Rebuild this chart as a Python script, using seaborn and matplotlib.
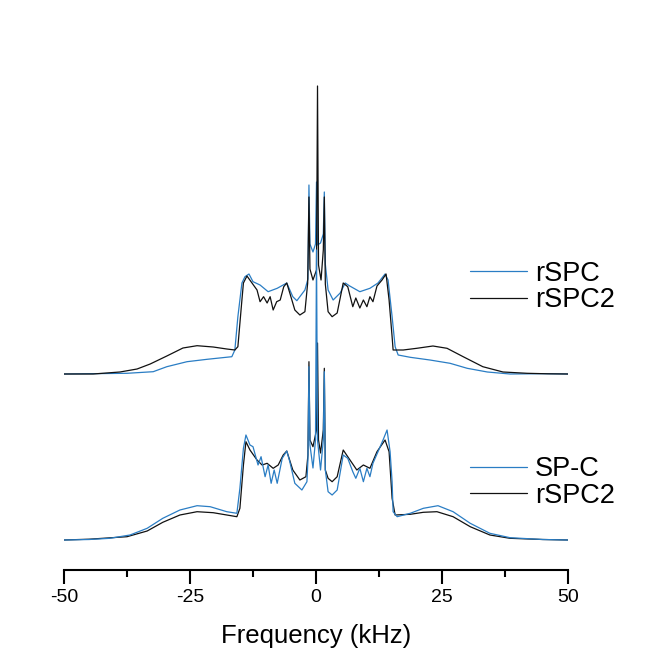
import numpy as np
import pandas as pd
import matplotlib
matplotlib.use("Agg")
import matplotlib.pyplot as plt
import seaborn as sns

# --- Datos (intensidad en u.a. sobre la linea base) ---
freq_rspc = [-50, -45, -37.5, -32.3, -29.6, -25.6, -21.6, -16.7, -16.1, -15.5, -14.7, -14.1,
             -13.3, -12.5, -11.1, -9.5, -7.7, -5.8, -4.6, -3.8, -2.2, -1.6, -1.4, -1.2,
             -0.6, -0.1, 0.1, 0.3, 0.9, 1.45, 1.65, 1.85, 2.4, 3.4, 4.8, 5.8, 6.7, 8.7,
             10.7, 12.3, 13.7, 14.3, 15.1, 15.7, 16.3, 18.7, 22.6, 26.6, 30, 34, 38.5, 45, 50]
int_rspc = [0, 0.3, 0.7, 2.3, 7.3, 12.3, 14.7, 17.3, 24, 57.3, 91, 97.3,
            100, 92.3, 89, 82.3, 85.7, 91, 77.3, 73.3, 84, 95, 189, 130,
            122, 130, 192, 129, 131, 140, 182, 110, 84, 74, 81, 91, 88, 82.3,
            85.7, 91, 100, 94, 57.3, 27.3, 19, 16.7, 14, 10.7, 5.7, 2, 0, 0.3, 0]

freq_rspc2_top = [-50, -44.2, -38.9, -35.5, -32.9, -29.6, -26.4, -23.6, -20.4, -17.7, -16.1,
                  -15.5, -14.7, -14.4, -13.7, -12.7, -11.7, -11.1, -10.4, -9.7, -9.1, -8.5,
                  -7.8, -7.1, -6.4, -5.8, -5.2, -4.2, -3.2, -2.2, -1.65, -1.4, -1.2, -0.6,
                  0.1, 0.3, 0.5, 1.0, 1.45, 1.65, 1.85, 2.4, 3.2, 4.2, 5.4, 6.3, 7.3, 7.9,
                  8.7, 9.4, 10.1, 10.7, 11.3, 12.1, 13.1, 13.9, 14.5, 15.1, 15.3, 17.3, 20,
                  23.2, 26, 29.2, 33.1, 37.1, 41.9, 46, 50]
int_rspc2_top = [0, 0, 2, 5, 10, 18, 26, 28.3, 27, 25, 24,
                 27.3, 74, 91, 98, 91, 84, 72.3, 77.3, 71, 77.3, 64,
                 72.3, 74, 87.3, 91, 81, 64, 59, 62.3, 91, 177, 105, 94,
                 104, 288, 109, 94, 124, 177, 90, 62.3, 57.3, 61, 91, 87.3, 67.3, 76,
                 66, 74, 67.3, 77.3, 72.3, 88, 94, 100, 74, 37.3, 24, 24, 25.7,
                 28, 25.7, 17.3, 7.3, 2, 0.7, 0.2, 0]

freq_spc = [-50, -45, -40.9, -36.9, -33.5, -30.4, -27, -23.6, -21, -17.7, -15.7, -15.1,
            -14.4, -13.9, -13.1, -12.5, -11.5, -10.9, -10.1, -9.5, -8.9, -8.3, -7.7,
            -6.7, -5.8, -5.2, -4.2, -2.8, -1.8, -1.6, -1.4, -1.2, -0.6, -0.1, 0.1, 0.3,
            0.9, 1.45, 1.65, 1.85, 2.4, 3.2, 4.2, 5.4, 6.3, 7.3, 7.9, 8.7, 9.4, 10.1, 10.7,
            11.3, 12.3, 13.3, 14.1, 14.7, 15.1, 15.3, 16.1, 18.7, 21.3, 24.2, 27.2,
            30.6, 34.5, 38.5, 45, 50]
int_spc = [0, 0.5, 1.7, 5, 11.7, 21.7, 30, 34.3, 33.3, 28.3, 26.7, 51.7,
           91.7, 105, 95, 93.3, 75, 83.3, 63.3, 75, 56.7, 70, 56.7,
           81.7, 89, 78.3, 56.7, 50, 58.3, 80, 173.3, 95, 72, 100, 290, 100,
           70, 100, 168.3, 70, 48.3, 45, 50, 85, 81.7, 68.3, 61.7, 71.7, 58.3, 71.7, 63.3,
           76.7, 88.3, 100, 110, 88.3, 58.3, 28.3, 23.3, 26.7, 31.7, 34.3, 28.3,
           16.7, 6.7, 2.3, 0.5, 0]

freq_rspc2_bot = [-50, -45, -37.5, -33.5, -30.4, -27, -23.6, -20.4, -15.7, -15.1, -14.4,
                  -13.9, -13.1, -11.7, -10.7, -9.7, -8.5, -7.5, -6.5, -5.8, -4.6, -3.2,
                  -2.0, -1.6, -1.4, -1.2, -0.6, 0.1, 0.3, 0.5, 0.9, 1.45, 1.65, 1.85, 2.4,
                  3.2, 4.2, 5.4, 6.3, 8.1, 9.4, 10.7, 12.1, 13.7, 14.5, 15.1, 15.7, 18.7,
                  21.3, 24, 27.2, 30.6, 34.5, 38.5, 45, 50]
int_rspc2_bot = [0, 0.8, 3.3, 9, 17.7, 25, 28.3, 27.3, 23.3, 31.7, 75,
                 98.3, 90, 80, 75, 76.7, 71.7, 75, 85, 89, 70, 60,
                 63.3, 85, 178.3, 100, 93.3, 110, 197, 100, 87, 110, 171.7, 70, 61.7,
                 58.3, 63.3, 90, 83.3, 70, 75, 71.7, 88.3, 100, 88.3, 41.7, 25, 25.7,
                 27.7, 28.3, 23.3, 13.3, 5, 1.7, 0.5, 0]

xticks_major = [-50, -25, 0, 25, 50]
xticks_minor = [-37.5, -12.5, 12.5, 37.5]

# --- Estilo ---
BLUE = "#2a7dc4"
BLACK = "#111111"
OFFSET_TOP = 196
OFFSET_BOT = 30

sns.set_style("white")
plt.rcParams['font.family'] = ['Liberation Sans', 'DejaVu Sans']
plt.rcParams['axes.unicode_minus'] = False
plt.rcParams['text.color'] = 'black'
plt.rcParams['axes.labelcolor'] = 'black'
plt.rcParams['xtick.color'] = 'black'


def draw_trace(ax, freq, inten, offset, color, label):
    df = pd.DataFrame({"freq": freq, "y": np.array(inten) + offset})
    sns.lineplot(data=df, x="freq", y="y", ax=ax, color=color, lw=0.9,
                 estimator=None, sort=False, label=label, legend=False)
    return ax.lines[-1]


def main():
    fig = plt.figure(figsize=(6.47, 6.51), dpi=100)
    ax = fig.add_axes([64 / 647, 81 / 651, 504 / 647, 490 / 651])

    # espectro superior: rSPC vs rSPC2
    h_rspc = draw_trace(ax, freq_rspc, int_rspc, OFFSET_TOP, BLUE, "rSPC")
    h_top2 = draw_trace(ax, freq_rspc2_top, int_rspc2_top, OFFSET_TOP, BLACK, "rSPC2")
    # espectro inferior: SP-C vs rSPC2
    h_bot2 = draw_trace(ax, freq_rspc2_bot, int_rspc2_bot, OFFSET_BOT, BLACK, "rSPC2")
    h_spc = draw_trace(ax, freq_spc, int_spc, OFFSET_BOT, BLUE, "SP-C")

    ax.set_xlim(-50, 50)
    ax.set_ylim(0, 490)
    ax.set_yticks([])
    ax.set_ylabel("")
    ax.set_xticks(xticks_major)
    ax.set_xticklabels([str(t) for t in xticks_major])
    ax.set_xticks(xticks_minor, minor=True)
    ax.tick_params(axis="x", which="major", direction="out", length=10, width=1.5,
                   labelsize=14, pad=4, color="black", labelcolor="black", bottom=True)
    ax.tick_params(axis="x", which="minor", direction="out", length=5, width=1.5,
                   color="black", bottom=True)
    for s in ["left", "top", "right"]:
        ax.spines[s].set_visible(False)
    ax.spines["bottom"].set_linewidth(1.5)
    ax.spines["bottom"].set_color("black")
    ax.set_xlabel("Frequency (kHz)", fontsize=18.5, labelpad=13, color="black")

    leg_kw = dict(frameon=False, fontsize=19.5, handlelength=2.1, handletextpad=0.3,
                  labelspacing=0.02, borderpad=0, borderaxespad=0, loc="center left")
    leg1 = ax.legend([h_rspc, h_top2], ["rSPC", "rSPC2"],
                     bbox_to_anchor=(470 / 647, 1 - 287 / 651),
                     bbox_transform=fig.transFigure, **leg_kw)
    ax.add_artist(leg1)
    leg2 = ax.legend([h_spc, h_bot2], ["SP-C", "rSPC2"],
                     bbox_to_anchor=(470 / 647, 1 - 482.5 / 651),
                     bbox_transform=fig.transFigure, **leg_kw)
    for leg in (leg1, leg2):
        for t in leg.get_texts():
            t.set_color("black")

    fig.savefig("out.png", dpi=100)
    plt.close(fig)


if __name__ == "__main__":
    main()
